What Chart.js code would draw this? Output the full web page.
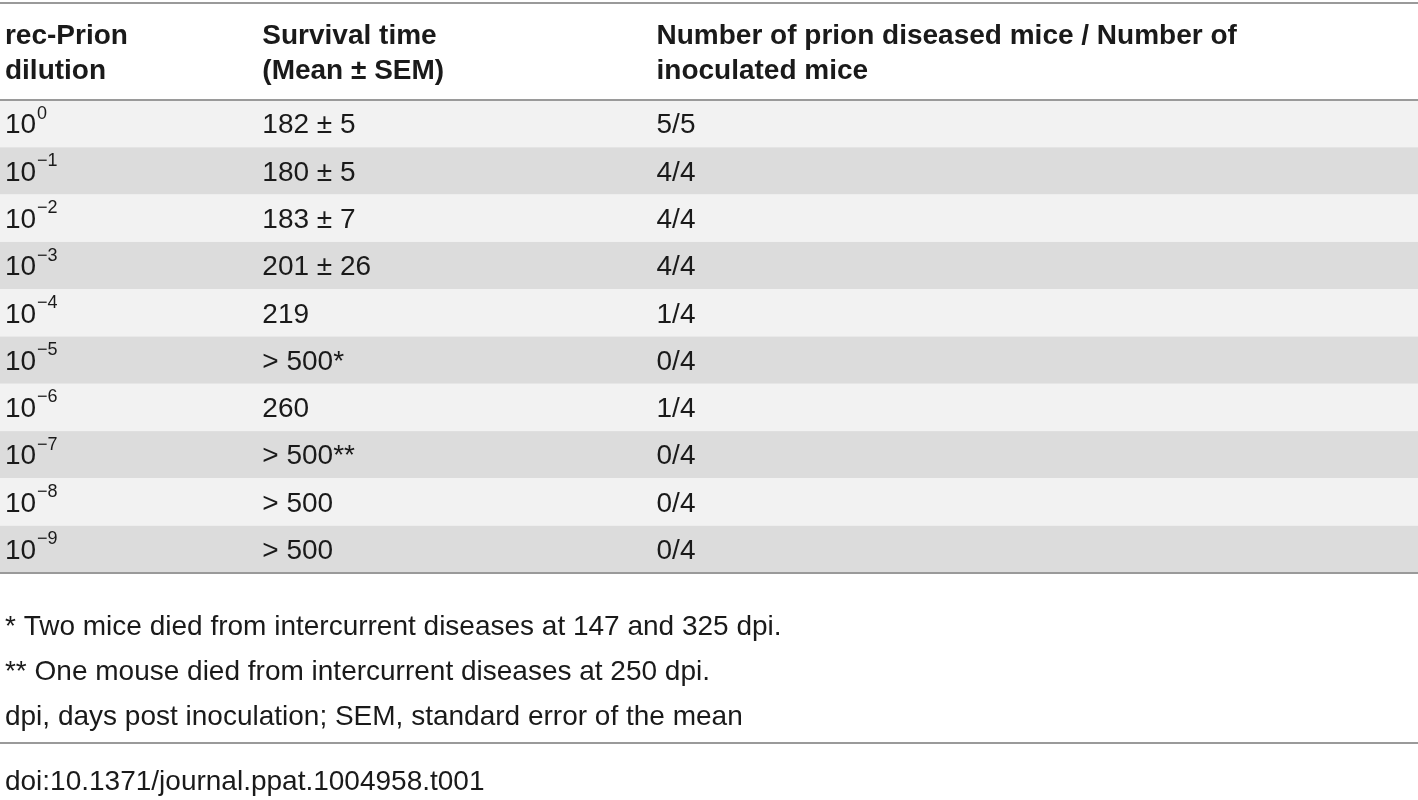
<!DOCTYPE html>
<html>
<head>
<meta charset="utf-8">
<script src="https://cdn.jsdelivr.net/npm/chart.js@4/dist/chart.umd.min.js"></script>
<style>
  html, body { margin: 0; padding: 0; background: #fff; }
  #wrap { width: 1418px; height: 800px; }
</style>
</head>
<body>
<div id="wrap"><canvas id="table"></canvas></div>
<script>
const headers = [
  ['rec-Prion', 'dilution'],
  ['Survival time', '(Mean \u00b1 SEM)'],
  ['Number of prion diseased mice / Number of', 'inoculated mice'],
];
const exponents = ['0', '\u22121', '\u22122', '\u22123', '\u22124', '\u22125', '\u22126', '\u22127', '\u22128', '\u22129'];
const survival = ['182 \u00b1 5', '180 \u00b1 5', '183 \u00b1 7', '201 \u00b1 26', '219', '> 500*', '260', '> 500**', '> 500', '> 500'];
const diseased = ['5/5', '4/4', '4/4', '4/4', '1/4', '0/4', '1/4', '0/4', '0/4', '0/4'];
const footnotes = [
  '* Two mice died from intercurrent diseases at 147 and 325 dpi.',
  '** One mouse died from intercurrent diseases at 250 dpi.',
  'dpi, days post inoculation; SEM, standard error of the mean',
];
const doi = 'doi:10.1371/journal.ppat.1004958.t001';

const rowLabels = exponents.map((e, i) => 'r' + i);
const colStarts = [0.35, 18.5, 46.3];
const font = '"Liberation Sans", Arial, sans-serif';
const ink = '#1a1a1a';

const tablePlugin = {
  id: 'tablePlugin',
  beforeDatasetsDraw(chart) {
    const { ctx, chartArea, scales: { x, y } } = chart;
    const rowH = y.getPixelForValue(1) - y.getPixelForValue(0);
    ctx.save();
    rowLabels.forEach((r, i) => {
      const cy = y.getPixelForValue(i);
      ctx.fillStyle = i % 2 === 0 ? '#f2f2f2' : '#dcdcdc';
      ctx.fillRect(0, cy - rowH / 2, chart.width, rowH);
    });
    ctx.fillStyle = ink;
    ctx.textBaseline = 'middle';
    ctx.textAlign = 'left';
    ctx.font = 'bold 28px ' + font;
    headers.forEach((lines, c) => {
      lines.forEach((t, k) => ctx.fillText(t, x.getPixelForValue(colStarts[c]), 36 + k * 35));
    });
    rowLabels.forEach((r, i) => {
      const cy = y.getPixelForValue(i) + 2;
      const x0 = x.getPixelForValue(colStarts[0]);
      ctx.font = '28px ' + font;
      ctx.fillText('10', x0, cy);
      const w = ctx.measureText('10').width;
      ctx.font = '18px ' + font;
      ctx.fillText(exponents[i], x0 + w + 1, cy - 12);
      ctx.font = '28px ' + font;
      ctx.fillText(survival[i], x.getPixelForValue(colStarts[1]), cy);
      ctx.fillText(diseased[i], x.getPixelForValue(colStarts[2]), cy);
    });
    footnotes.forEach((t, k) => ctx.fillText(t, x.getPixelForValue(colStarts[0]), 627 + k * 45));
    ctx.fillText(doi, x.getPixelForValue(colStarts[0]), 782);
    ctx.fillStyle = '#9a9a9a';
    ctx.fillRect(0, 2, chart.width, 2);
    ctx.fillRect(0, chartArea.top - 1, chart.width, 2);
    ctx.fillRect(0, chartArea.bottom - 1, chart.width, 2);
    ctx.fillRect(0, 742, chart.width, 2);
    ctx.restore();
  },
};

function build() {
  new Chart(document.getElementById('table'), {
    type: 'scatter',
    data: { datasets: [{ data: [] }] },
    options: {
      responsive: true,
      maintainAspectRatio: false,
      animation: false,
      layout: { padding: { top: 100, bottom: 227, left: 0, right: 0 } },
      plugins: { legend: { display: false }, tooltip: { enabled: false } },
      scales: {
        x: { type: 'linear', min: 0, max: 100, display: false },
        y: { type: 'category', labels: rowLabels, offset: true, display: false },
      },
    },
    plugins: [tablePlugin],
  });
}

Promise.all([
  document.fonts.load('28px "Liberation Sans"'),
  document.fonts.load('bold 28px "Liberation Sans"'),
]).then(build, build);
</script>
</body>
</html>
